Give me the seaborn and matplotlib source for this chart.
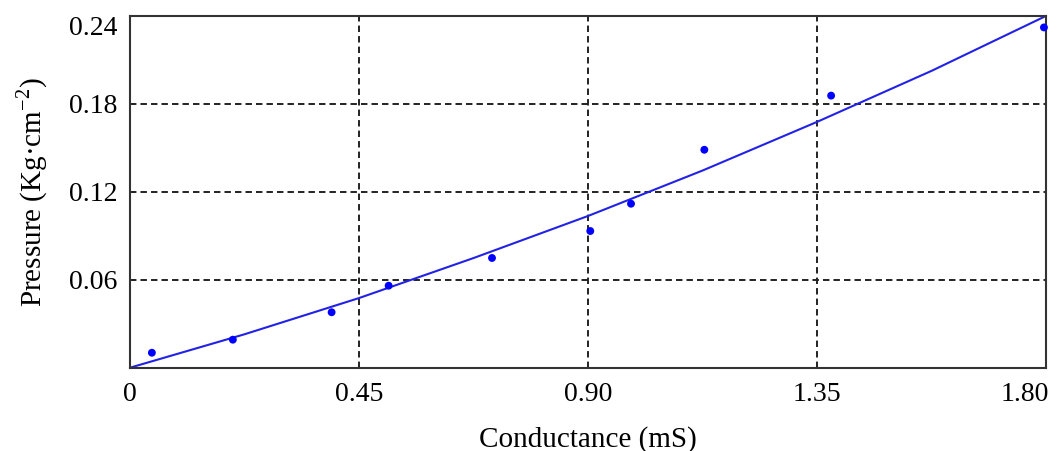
import matplotlib
matplotlib.use("Agg")
import matplotlib.pyplot as plt
import matplotlib.transforms as mtransforms
import seaborn as sns
import pandas as pd

# Measured points
conductance = [0.043, 0.202, 0.396, 0.508, 0.711, 0.904, 0.984, 1.128, 1.377, 1.795]
pressure = [0.0102, 0.0191, 0.0378, 0.0559, 0.0748, 0.0932, 0.1118, 0.1486, 0.1855, 0.2320]

# Fitted curve
curve_x = [0.0, 0.225, 0.45, 0.675, 0.90, 1.125, 1.35, 1.575, 1.80]
curve_y = [0.0, 0.0228, 0.0475, 0.0748, 0.1035, 0.1345, 0.1677, 0.2025, 0.2400]

x_ticks = [0, 0.45, 0.90, 1.35, 1.80]
x_ticklabels = ["0", "0.45", "0.90", "1.35", "1.80"]
y_ticks = [0.06, 0.12, 0.18, 0.24]
y_ticklabels = ["0.06", "0.12", "0.18", "0.24"]

sns.set_theme(style="white")
plt.rcParams['font.family'] = ['Liberation Serif', 'DejaVu Serif']
plt.rcParams['mathtext.fontset'] = 'stix'

pts = pd.DataFrame({"x": conductance, "y": pressure})
fit = pd.DataFrame({"x": curve_x, "y": curve_y})

fig = plt.figure(figsize=(10.62, 4.51), dpi=100)
ax = fig.add_axes([0.1224, 0.1847, 0.8630, 0.7805])

sns.lineplot(data=fit, x="x", y="y", ax=ax, color="#2222e6", linewidth=1.5,
             sort=True, estimator=None)
sns.scatterplot(data=pts, x="x", y="y", ax=ax, color="#0000ff", s=32,
                edgecolor="none", zorder=5, clip_on=False)

ax.set_xlim(0, 1.80)
ax.set_ylim(0, 0.24)
ax.set_xticks(x_ticks)
ax.set_xticklabels(x_ticklabels)
ax.set_yticks(y_ticks)
ax.set_yticklabels(y_ticklabels)
ax.tick_params(axis='both', labelsize=20, colors='black', direction='in',
               length=3, width=1)
ax.tick_params(axis='x', pad=10)
ax.tick_params(axis='y', pad=9)

# Edge labels kept inside the figure as in the reference
xl = ax.get_xticklabels()[-1]
xl.set_horizontalalignment('right')
xl.set_transform(xl.get_transform() + mtransforms.ScaledTranslation(2/100, 0, fig.dpi_scale_trans))
yl = ax.get_yticklabels()[-1]
yl.set_verticalalignment('top')

ax.grid(True, color='#222222', linestyle=(0, (3.3, 2.1)), linewidth=1.4)
ax.set_axisbelow(True)
for sp in ax.spines.values():
    sp.set_color('#333333')
    sp.set_linewidth(1.5)

ax.set_xlabel("Conductance (mS)", fontsize=21, labelpad=14, color='black')
ax.set_ylabel(r"Pressure (Kg·cm$^{\mathregular{-2}}$)", fontsize=21, labelpad=14, color='black')

fig.savefig("out.png", dpi=100)
